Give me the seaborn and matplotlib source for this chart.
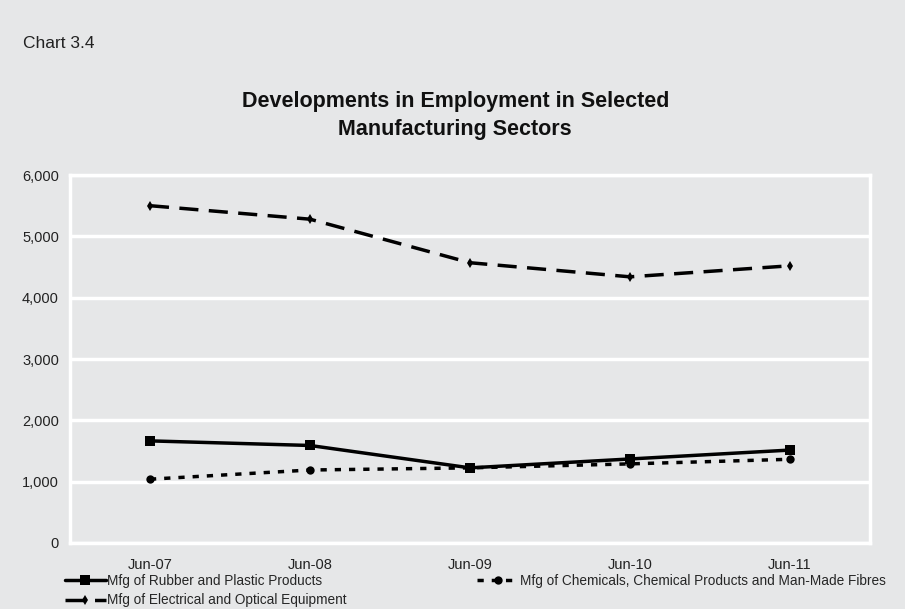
import matplotlib
matplotlib.use("Agg")
import matplotlib.pyplot as plt
import seaborn as sns
import pandas as pd
import numpy as np

periods = ["Jun-07", "Jun-08", "Jun-09", "Jun-10", "Jun-11"]
rubber = [1665, 1590, 1225, 1370, 1515]
chemicals = [1040, 1190, 1225, 1290, 1365]
electrical = [5500, 5280, 4570, 4340, 4520]
series_names = ["Mfg of Rubber and Plastic Products",
                "Mfg of Electrical and Optical Equipment",
                "Mfg of Chemicals, Chemical Products and Man-Made Fibres"]
yticks = [0, 1000, 2000, 3000, 4000, 5000, 6000]

sns.set_theme(style="white")
plt.rcParams['font.family'] = ['Liberation Sans', 'DejaVu Sans']

bg = "#e6e7e8"
fig = plt.figure(figsize=(9.05, 6.09), dpi=100, facecolor=bg)
ax = fig.add_axes([0.0773, 0.1084, 0.884, 0.6042])
ax.set_facecolor(bg)

x = np.arange(len(periods))
df = pd.DataFrame({"x": np.tile(x, 3),
                   "value": rubber + electrical + chemicals,
                   "series": np.repeat(series_names, len(periods))})

styles = {
    series_names[0]: dict(linestyle="-", marker="s", markersize=6.5),
    series_names[1]: dict(linestyle=(0, (5.5, 3)), marker="d", markersize=5.5),
    series_names[2]: dict(linestyle=(0, (1.8, 2.3)), marker="o", markersize=6),
}
for name in series_names:
    sub = df[df.series == name]
    sns.lineplot(data=sub, x="x", y="value", ax=ax, color="black", linewidth=2.5,
                 label=name, legend=False, markeredgewidth=0, **styles[name])

ax.set_xlim(-0.5, 4.5)
ax.set_ylim(0, 6000)
ax.set_yticks(yticks)
ax.set_yticklabels([f"{v:,}" for v in yticks], fontsize=10.5, color="#222222")
ax.set_xticks(x)
ax.set_xticklabels(periods, fontsize=10.5, color="#222222")
ax.set_xticks(np.arange(0.5, 4.5, 1), minor=True)
ax.tick_params(axis="x", which="major", length=0, pad=10.5)
ax.tick_params(axis="x", which="minor", direction="in", length=5, width=2.5, color="white")
ax.tick_params(axis="y", length=0, pad=8)
ax.set_xlabel("")
ax.set_ylabel("")
ax.yaxis.grid(True, color="white", linewidth=2.5)
ax.set_axisbelow(True)
for s in ax.spines.values():
    s.set_color("white")
    s.set_linewidth(2.5)

fig.text(0.025, 0.929, "Chart 3.4", fontsize=12.5, color="#222222", ha="left", va="center")
fig.text(0.503, 0.810, "Developments in Employment in Selected\nManufacturing Sectors",
         fontsize=15.5, fontweight="bold", ha="center", va="center", linespacing=1.42,
         color="#111111")

h, l = ax.get_legend_handles_labels()
leg = fig.legend(h, l, loc="upper left", bbox_to_anchor=(0.0718, 0.058), ncol=2,
                 frameon=False, fontsize=9.8, handlelength=3.0, handletextpad=0.1,
                 columnspacing=9.6, labelspacing=0.42, borderaxespad=0, borderpad=0)

fig.savefig("out.png", dpi=100, facecolor=bg)
